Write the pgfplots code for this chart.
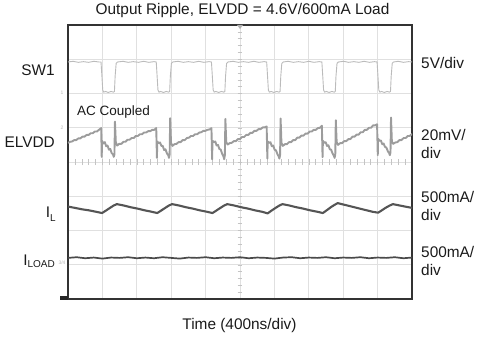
\documentclass[border=0pt]{standalone}
\usepackage{pgfplots}
\pgfplotsset{compat=1.18}
\usepackage{fontspec}
\setmainfont{Liberation Sans}
\definecolor{gridc}{HTML}{E0E0E0}
\definecolor{swc}{HTML}{BBBBBB}
\definecolor{elc}{HTML}{9C9C9C}
\definecolor{ilc}{HTML}{555555}
\definecolor{ldc}{HTML}{4A4A4A}
\definecolor{txt}{HTML}{1A1A1A}
\begin{document}
\begin{tikzpicture}[x=1pt,y=1pt]
\path[use as bounding box] (0,0) rectangle (480,-337);
\begin{axis}[at={(68pt,-299pt)}, anchor=south west, scale only axis,
  width=344pt, height=274pt, xmin=0, xmax=10, ymin=0, ymax=8,
  xtick={1,...,9}, ytick={1,...,7}, xticklabels={}, yticklabels={},
  tick style={draw=none}, grid=major, grid style={gridc, line width=0.7pt},
  axis line style={draw=black!80, line width=1.4pt}, clip=true]
% centre line ticks
\pgfplotsinvokeforeach{0.2,0.4,...,7.8}{\draw[gridc!70!black!60, line width=0.5pt] (axis cs:4.93,#1) -- (axis cs:5.07,#1);}
\pgfplotsinvokeforeach{0.2,0.4,...,9.8}{\draw[gridc!70!black!60, line width=0.5pt] (axis cs:#1,3.91) -- (axis cs:#1,4.09);}
% SW1
\addplot[swc, line width=0.9pt] coordinates {
(0.00,6.92)(0.15,6.94)(0.30,6.91)(0.45,6.93)(0.60,6.91)(0.75,6.94)(0.90,6.92)
(0.96,6.92)(0.98,6.60)(1.01,6.10)(1.04,6.04)(1.09,6.06)(1.17,6.03)(1.25,6.06)(1.32,6.04)(1.35,6.06)(1.37,6.50)(1.40,6.88)(1.44,6.92)
(1.60,6.94)(1.75,6.91)(1.90,6.93)(2.05,6.91)(2.20,6.94)(2.35,6.91)(2.50,6.93)
(2.565,6.92)(2.585,6.60)(2.615,6.10)(2.645,6.04)(2.695,6.06)(2.775,6.03)(2.855,6.06)(2.925,6.04)(2.955,6.06)(2.975,6.50)(3.005,6.88)(3.045,6.92)
(3.20,6.94)(3.35,6.91)(3.50,6.93)(3.65,6.91)(3.80,6.94)(3.95,6.91)(4.10,6.93)
(4.17,6.92)(4.19,6.60)(4.22,6.10)(4.25,6.04)(4.30,6.06)(4.38,6.03)(4.46,6.06)(4.53,6.04)(4.56,6.06)(4.58,6.50)(4.61,6.88)(4.65,6.92)
(4.80,6.94)(4.95,6.91)(5.10,6.93)(5.25,6.91)(5.40,6.94)(5.55,6.91)(5.70,6.93)
(5.775,6.92)(5.795,6.60)(5.825,6.10)(5.855,6.04)(5.905,6.06)(5.985,6.03)(6.065,6.06)(6.135,6.04)(6.165,6.06)(6.185,6.50)(6.215,6.88)(6.255,6.92)
(6.40,6.94)(6.55,6.91)(6.70,6.93)(6.85,6.91)(7.00,6.94)(7.15,6.91)(7.30,6.93)
(7.38,6.92)(7.40,6.60)(7.43,6.10)(7.46,6.04)(7.51,6.06)(7.59,6.03)(7.67,6.06)(7.74,6.04)(7.77,6.06)(7.79,6.50)(7.82,6.88)(7.86,6.92)
(8.01,6.94)(8.16,6.91)(8.31,6.93)(8.46,6.91)(8.61,6.94)(8.76,6.91)(8.91,6.93)
(8.985,6.92)(9.005,6.60)(9.035,6.10)(9.065,6.04)(9.115,6.06)(9.195,6.03)(9.275,6.06)(9.345,6.04)(9.375,6.06)(9.395,6.50)(9.425,6.88)(9.465,6.92)
(9.60,6.94)(9.75,6.91)(9.90,6.93)(10.00,6.92)
};
% ELVDD
\addplot[elc, line width=1.9pt, line join=round] coordinates {
(0.00,4.56)(0.06,4.59)(0.12,4.60)(0.18,4.64)(0.24,4.64)(0.30,4.69)(0.36,4.69)(0.42,4.74)(0.48,4.74)(0.54,4.79)(0.60,4.79)(0.66,4.84)(0.72,4.84)(0.78,4.89)(0.84,4.89)(0.90,4.94)(0.965,4.99)
(0.980,4.15)(0.990,4.62)(1.030,4.54)(1.070,4.58)(1.110,4.46)(1.150,4.48)(1.190,4.36)(1.230,4.38)(1.270,4.26)(1.310,4.22)(1.330,4.15)(1.350,4.22)(1.365,5.18)(1.390,4.58)(1.430,4.48)
(1.490,4.53)(1.550,4.53)(1.610,4.59)(1.670,4.59)(1.730,4.65)(1.790,4.65)(1.850,4.70)(1.910,4.70)(1.970,4.76)(2.030,4.76)(2.090,4.81)(2.150,4.81)(2.210,4.86)(2.270,4.86)(2.330,4.90)(2.390,4.90)(2.450,4.94)(2.510,4.94)(2.565,4.99)
(2.585,4.12)(2.595,4.60)(2.635,4.55)(2.675,4.57)(2.715,4.47)(2.755,4.47)(2.795,4.35)(2.835,4.37)(2.875,4.25)(2.915,4.20)(2.935,4.12)(2.955,4.22)(2.970,5.28)(2.995,4.56)(3.035,4.47)
(3.095,4.52)(3.155,4.53)(3.215,4.58)(3.275,4.58)(3.335,4.64)(3.395,4.64)(3.455,4.70)(3.515,4.71)(3.575,4.76)(3.635,4.76)(3.695,4.81)(3.755,4.81)(3.815,4.86)(3.875,4.87)(3.935,4.91)(3.995,4.91)(4.055,4.94)(4.115,4.95)(4.170,4.99)
(4.190,4.08)(4.200,4.62)(4.240,4.58)(4.280,4.60)(4.320,4.48)(4.360,4.50)(4.400,4.38)(4.440,4.36)(4.480,4.24)(4.520,4.16)(4.540,4.08)(4.560,4.20)(4.575,5.26)(4.600,4.58)(4.640,4.51)
(4.700,4.55)(4.760,4.56)(4.820,4.61)(4.880,4.61)(4.940,4.67)(5.000,4.67)(5.060,4.73)(5.120,4.73)(5.180,4.79)(5.240,4.79)(5.300,4.85)(5.360,4.85)(5.420,4.91)(5.480,4.91)(5.540,4.96)(5.600,4.96)(5.660,5.01)(5.720,5.01)(5.775,5.04)
(5.795,4.10)(5.805,4.60)(5.845,4.56)(5.885,4.58)(5.925,4.46)(5.965,4.48)(6.005,4.36)(6.045,4.34)(6.085,4.24)(6.125,4.16)(6.145,4.10)(6.165,4.20)(6.180,5.27)(6.205,4.56)(6.245,4.47)
(6.305,4.52)(6.365,4.52)(6.425,4.58)(6.485,4.58)(6.545,4.64)(6.605,4.64)(6.665,4.71)(6.725,4.71)(6.785,4.77)(6.845,4.77)(6.905,4.83)(6.965,4.83)(7.025,4.89)(7.085,4.89)(7.145,4.94)(7.205,4.94)(7.265,4.99)(7.325,5.00)(7.380,5.06)
(7.400,4.14)(7.410,4.62)(7.450,4.56)(7.490,4.58)(7.530,4.47)(7.570,4.49)(7.610,4.37)(7.650,4.36)(7.690,4.25)(7.730,4.18)(7.750,4.12)(7.770,4.22)(7.785,5.22)(7.810,4.58)(7.850,4.50)
(7.910,4.55)(7.970,4.55)(8.030,4.61)(8.090,4.61)(8.150,4.67)(8.210,4.67)(8.270,4.74)(8.330,4.74)(8.390,4.80)(8.450,4.80)(8.510,4.87)(8.570,4.87)(8.630,4.94)(8.690,4.94)(8.750,5.00)(8.810,5.00)(8.870,5.07)(8.930,5.07)(8.985,5.10)
(9.005,4.20)(9.015,4.68)(9.055,4.62)(9.095,4.63)(9.135,4.52)(9.175,4.54)(9.215,4.44)(9.255,4.42)(9.295,4.32)(9.335,4.26)(9.355,4.20)(9.375,4.28)(9.390,5.30)(9.415,4.60)(9.455,4.53)
(9.515,4.57)(9.575,4.58)(9.635,4.64)(9.695,4.64)(9.755,4.70)(9.815,4.70)(9.875,4.76)(9.935,4.76)(10.000,4.82)
};
% IL
\addplot[ilc, line width=2.1pt, line join=round] coordinates {
(0.00,2.70)(0.20,2.66)(0.40,2.62)(0.60,2.59)(0.80,2.55)
(0.99,2.51)(1.10,2.58)(1.22,2.66)(1.33,2.73)(1.42,2.77)(1.62,2.73)(1.82,2.68)(2.02,2.64)(2.22,2.59)(2.42,2.55)
(2.595,2.51)(2.705,2.58)(2.825,2.66)(2.935,2.73)(3.025,2.77)(3.225,2.73)(3.425,2.68)(3.625,2.64)(3.825,2.59)(4.025,2.55)
(4.20,2.51)(4.31,2.58)(4.43,2.66)(4.54,2.73)(4.63,2.77)(4.83,2.73)(5.03,2.68)(5.23,2.64)(5.43,2.59)(5.63,2.55)
(5.805,2.50)(5.915,2.58)(6.035,2.66)(6.145,2.73)(6.235,2.77)(6.435,2.73)(6.635,2.68)(6.835,2.64)(7.035,2.59)(7.235,2.55)
(7.41,2.51)(7.52,2.59)(7.64,2.68)(7.75,2.75)(7.84,2.80)(8.04,2.75)(8.24,2.70)(8.44,2.65)(8.64,2.60)(8.84,2.55)
(9.015,2.52)(9.125,2.59)(9.245,2.67)(9.355,2.73)(9.445,2.77)(9.645,2.73)(9.845,2.69)(10.00,2.66)
};
% ILOAD
\addplot[ldc, line width=1.7pt, line join=round] coordinates {
(0.00,1.20)(0.25,1.22)(0.50,1.19)(0.75,1.21)(1.00,1.18)(1.25,1.21)(1.50,1.20)(1.75,1.22)(2.00,1.19)(2.25,1.21)
(2.50,1.19)(2.75,1.22)(3.00,1.20)(3.25,1.18)(3.50,1.21)(3.75,1.20)(4.00,1.22)(4.25,1.19)(4.50,1.21)(4.75,1.20)
(5.00,1.22)(5.25,1.19)(5.50,1.21)(5.75,1.20)(6.00,1.18)(6.25,1.21)(6.50,1.22)(6.75,1.19)(7.00,1.21)(7.25,1.20)
(7.50,1.22)(7.75,1.19)(8.00,1.21)(8.25,1.20)(8.50,1.22)(8.75,1.19)(9.00,1.21)(9.25,1.20)(9.50,1.22)(9.75,1.19)(10.00,1.21)
};
\end{axis}
% decorations
\fill[black!85] (60,-296) rectangle (68,-300);
\fill[gray!60] (237,-25) -- (243,-25) -- (240,-29) -- cycle;
\node[gray!55, font=\fontsize{5}{5}\selectfont, inner sep=0pt] at (62,-93) {1};
\node[gray!55, font=\fontsize{5}{5}\selectfont, inner sep=0pt] at (62,-128) {2};
\node[gray!55, font=\fontsize{5}{5}\selectfont, inner sep=0pt] at (62,-263) {3/4};
% texts
\begin{scope}[every node/.style={inner sep=0pt, text=txt, font=\fontsize{15.4}{18}\selectfont}]
\node[anchor=base] at (242.5,-15) {Output Ripple, ELVDD = 4.6V/600mA Load};
\node[anchor=base] at (239.5,-329) {Time (400ns/div)};
\node[anchor=base east] at (55,-76) {SW1};
\node[anchor=base east] at (55,-147) {ELVDD};
\node[anchor=base east] at (56,-218) {I\raisebox{-3pt}{\fontsize{10}{10}\selectfont L}};
\node[anchor=base east] at (55,-265) {I\raisebox{-2pt}{\fontsize{10}{10}\selectfont LOAD}};
\node[anchor=base west] at (421,-69) {5V/div};
\node[anchor=base west] at (421,-140) {20mV/};
\node[anchor=base west] at (421,-158) {div};
\node[anchor=base west] at (421,-202) {500mA/};
\node[anchor=base west] at (421,-220) {div};
\node[anchor=base west] at (421,-257) {500mA/};
\node[anchor=base west] at (421,-275) {div};
\node[anchor=base west, font=\fontsize{13.5}{16}\selectfont] at (77,-116) {AC Coupled};
\end{scope}
\end{tikzpicture}
\end{document}
